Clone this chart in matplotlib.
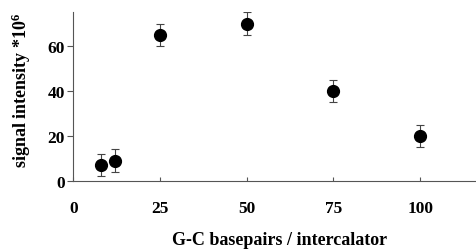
import matplotlib
matplotlib.use("Agg")
import matplotlib.pyplot as plt

# G-C basepairs per intercalator vs signal intensity (*10^6)
basepairs = [8, 12, 25, 50, 75, 100]
intensity = [7, 9, 65, 70, 40, 20]
err = [5, 5, 5, 5, 5, 5]
xticks = [0, 25, 50, 75, 100]
yticks = [0, 20, 40, 60]

plt.rcParams['font.family'] = ['Liberation Serif', 'DejaVu Serif']
plt.rcParams['font.weight'] = 'bold'
plt.rcParams['mathtext.fontset'] = 'custom'
plt.rcParams['mathtext.rm'] = 'Liberation Serif:bold'
plt.rcParams['mathtext.it'] = 'Liberation Serif:bold'

fig = plt.figure(figsize=(4.77, 2.51), dpi=100)
ax = fig.add_axes([0.1537, 0.276, 0.8463, 0.671])

ax.errorbar(basepairs, intensity, yerr=err, fmt='o', color='black',
            markersize=8.5, ecolor='#444444', elinewidth=0.8, capsize=3,
            capthick=0.8)

ax.set_xlim(0, 116.4)
ax.set_ylim(0, 75)
ax.set_xticks(xticks)
ax.set_yticks(yticks)

for s in ['top', 'right']:
    ax.spines[s].set_visible(False)
for s in ['left', 'bottom']:
    ax.spines[s].set_color('#555555')
    ax.spines[s].set_linewidth(0.8)

ax.tick_params(axis='x', direction='in', length=3, width=0.8, color='#555555',
               pad=14, labelsize=12.5)
ax.tick_params(axis='y', direction='out', length=4, width=0.8, color='#555555',
               pad=2, labelsize=12.5)
for lab in ax.get_xticklabels() + ax.get_yticklabels():
    lab.set_fontweight('bold')

ax.set_xlabel('G-C basepairs / intercalator', fontsize=13, fontweight='bold')
ax.set_ylabel('signal intensity *10$^6$', fontsize=13, fontweight='bold')
ax.xaxis.set_label_coords(0.512, -0.297)
ax.yaxis.set_label_coords(-0.1, 0.54)

fig.savefig('out.png', dpi=100)
